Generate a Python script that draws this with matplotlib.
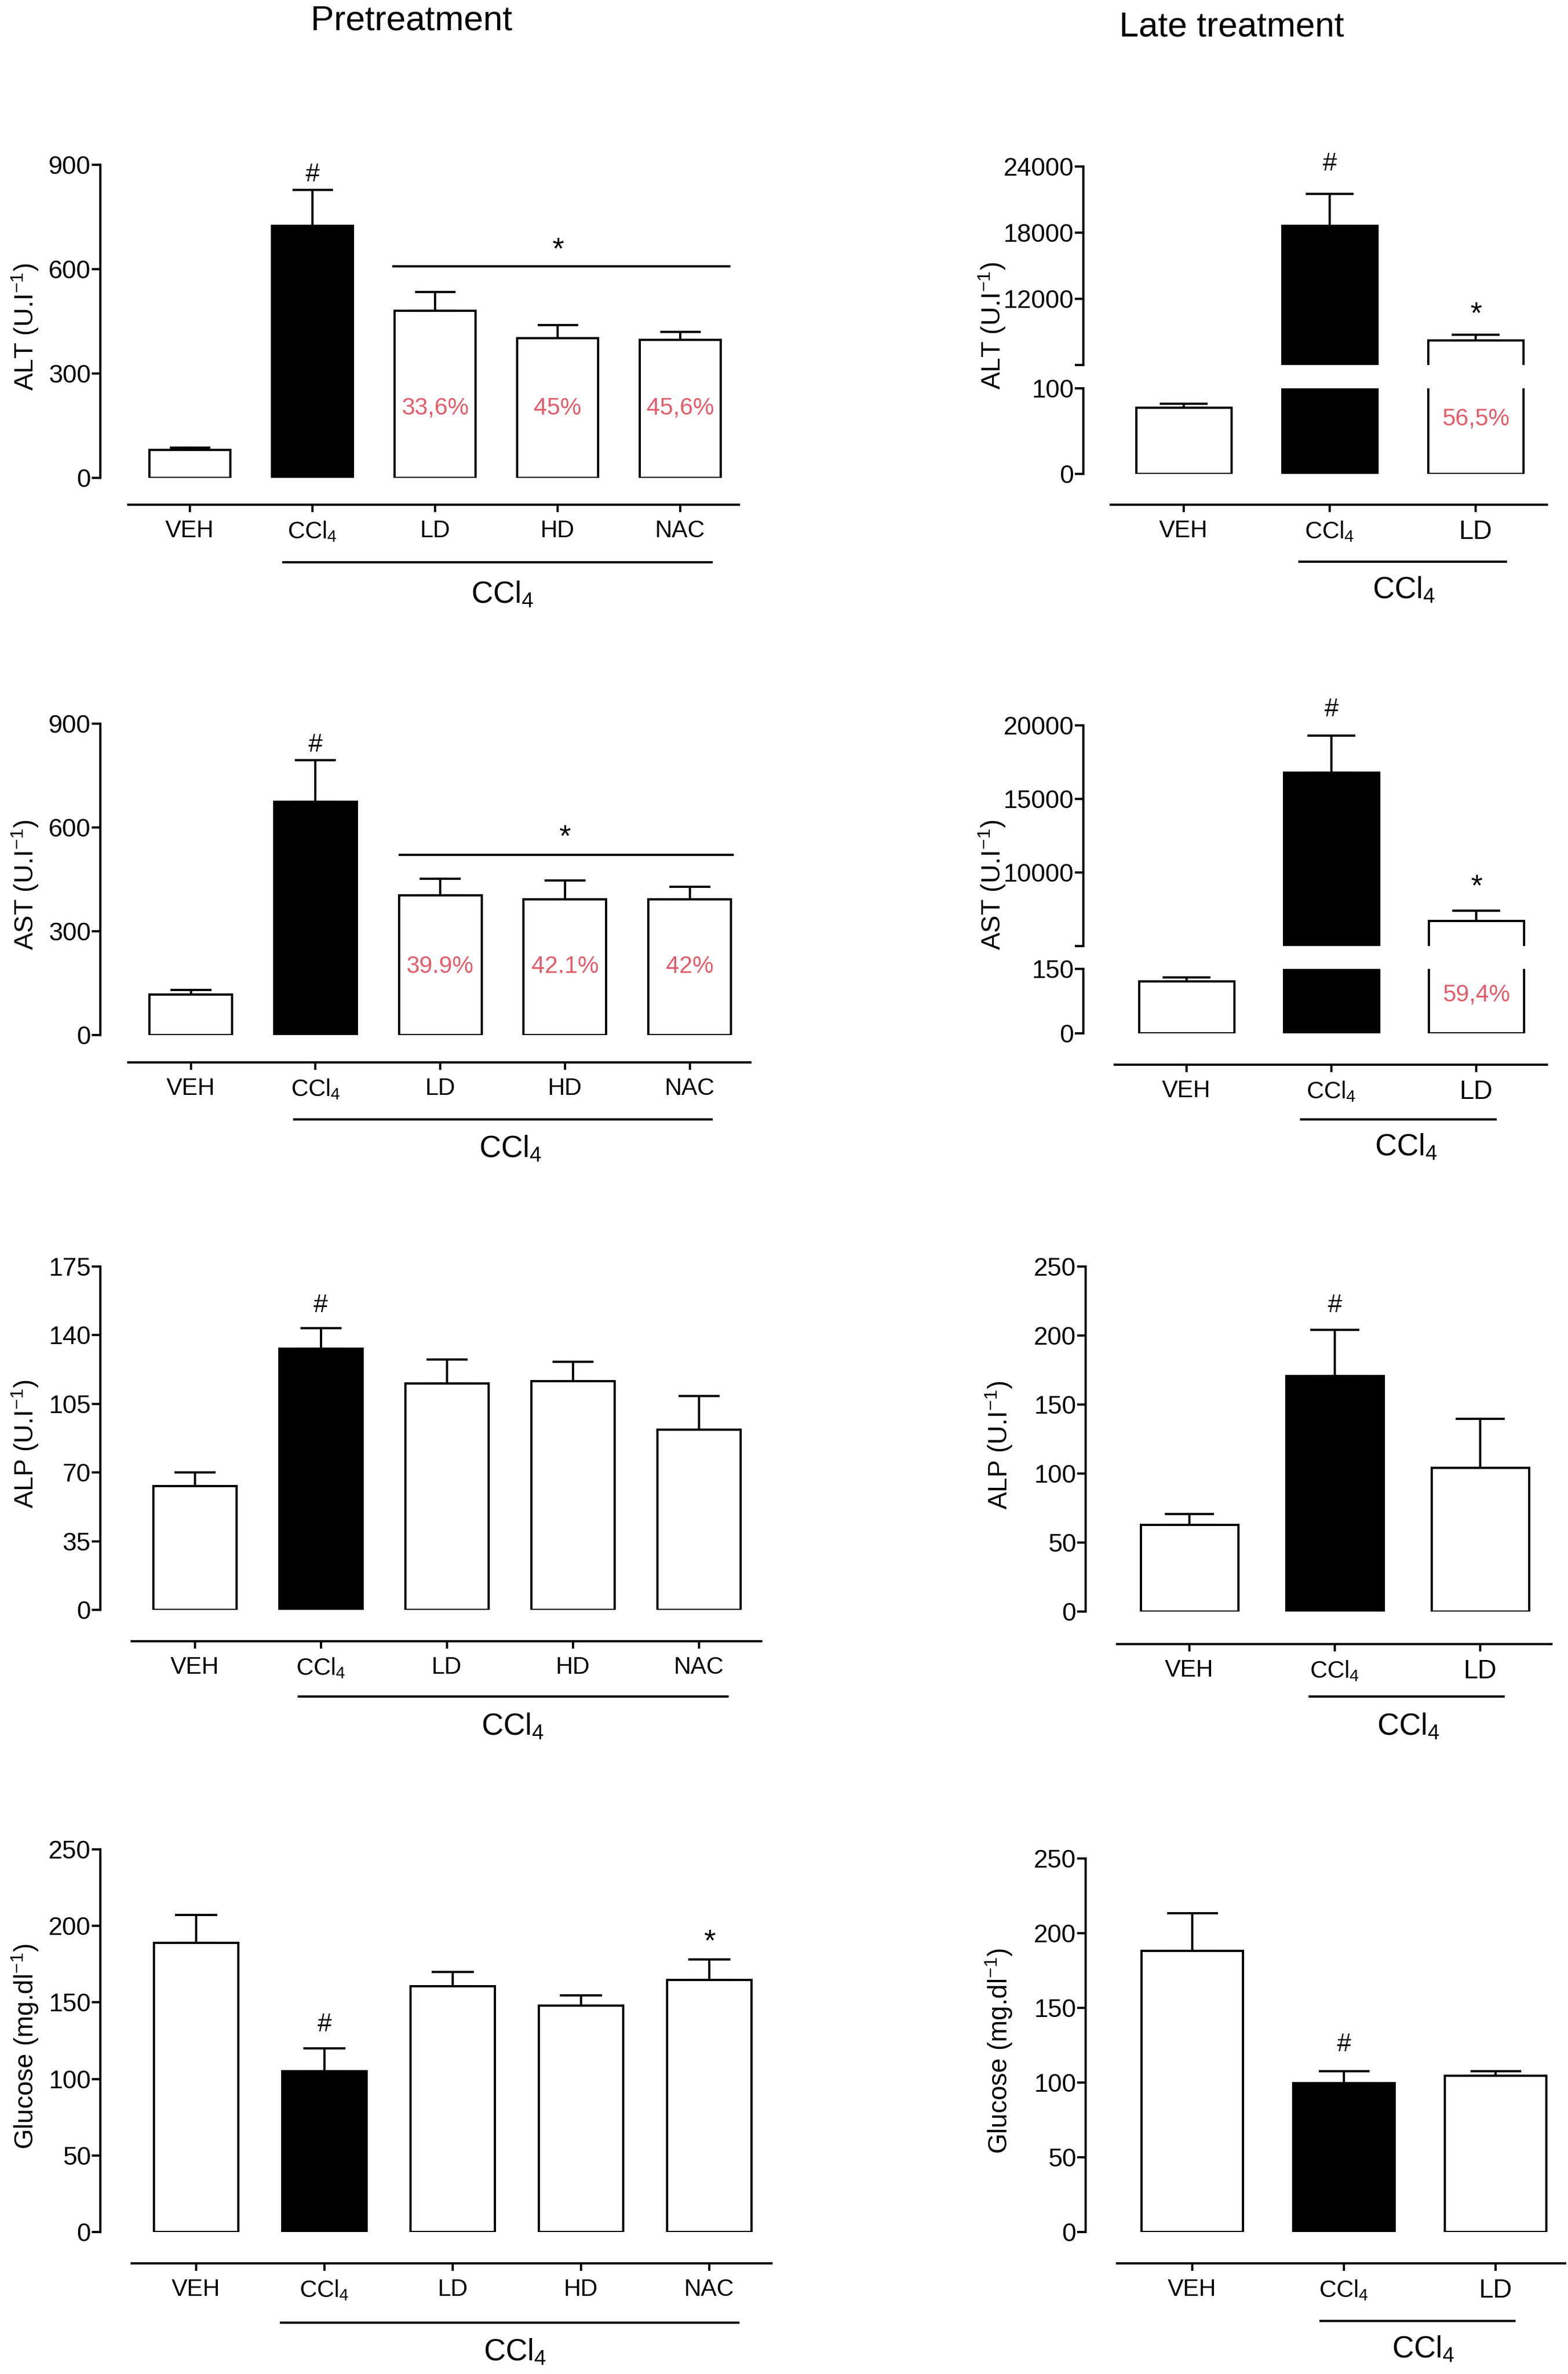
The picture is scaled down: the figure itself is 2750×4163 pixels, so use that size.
import matplotlib
matplotlib.use('Agg')
import matplotlib.pyplot as plt
import numpy as np
from matplotlib import font_manager as fm
from matplotlib.transforms import blended_transform_factory

# ---------------- data ----------------
pre_groups = ['VEH', 'CCl$_{\\mathregular{4}}$', 'LD', 'HD', 'NAC']
late_groups = ['VEH', 'CCl$_{\\mathregular{4}}$', 'LD']
pre_fill = ['white', 'black', 'white', 'white', 'white']
late_fill = ['white', 'black', 'white']

alt_pre_mean = [80, 725, 481, 402, 397]
alt_pre_sem = [6, 103, 54, 37, 23]
ast_pre_mean = [116, 674, 404, 392, 392]
ast_pre_sem = [13, 121, 48, 54, 36]
alp_pre_mean = [63, 133, 115.5, 116.5, 92]
alp_pre_sem = [7, 10.5, 12, 10, 17]
glu_pre_mean = [189, 105, 160.5, 148, 164.5]
glu_pre_sem = [18, 15, 9.5, 6.5, 13.5]

alt_late_mean = [77, 18600, 8250]
alt_late_sem = [5, 2900, 500]
ast_late_mean = [121, 16800, 6700]
ast_late_sem = [9, 2500, 700]
alp_late_mean = [63, 170.5, 104]
alp_late_sem = [7.5, 33.5, 35.5]
glu_late_mean = [188, 99.5, 104.5]
glu_late_sem = [25.5, 8, 3]

alt_pre_pct = ['', '', '33,6%', '45%', '45,6%']
ast_pre_pct = ['', '', '39.9%', '42.1%', '42%']
alt_late_pct = ['', '', '56,5%']
ast_late_pct = ['', '', '59,4%']

# ---------------- style ----------------
W, H, DPI = 2750, 4163, 100
names = {f.name for f in fm.fontManager.ttflist}
NARROW = (['Liberation Sans Narrow'] if 'Liberation Sans Narrow' in names else ['Liberation Sans']) + ['DejaVu Sans']
REG = ['Liberation Sans', 'DejaVu Sans']
PCT_COLOR = '#E35D6A'
LW = 2.8
TICKFS = 32
CATFS = 30
GROUPFS = 38
YLABFS = 33
PX2PT = 72 / DPI

fig = plt.figure(figsize=(W / DPI, H / DPI), dpi=DPI)
fig.patch.set_facecolor('white')


def add_ax(left, right, top, bottom):
    return fig.add_axes([left / W, 1 - bottom / H, (right - left) / W, (bottom - top) / H])


def style_left(ax, ticks, labels):
    for s in ('top', 'right'):
        ax.spines[s].set_visible(False)
    ax.spines['left'].set_linewidth(LW)
    ax.set_yticks(ticks)
    ax.set_yticklabels(labels, fontfamily=NARROW, fontsize=TICKFS)
    ax.tick_params(axis='y', direction='out', length=11, width=LW, pad=1)


def draw_bars(ax, L, means, sems, fills):
    n = len(means)
    x = np.arange(n)
    bw = L['bw'] / L['sp']
    ax.bar(x, means, width=bw, color=fills, edgecolor='black', linewidth=LW, zorder=2)
    cap = L['bw'] * 0.25 * PX2PT
    ax.errorbar(x, means, yerr=[np.zeros(n), sems], fmt='none', ecolor='black',
                elinewidth=LW, capsize=cap, capthick=LW, zorder=1)


def bottom_axis(ax, L, n, xlim, labels, late=False):
    sp, c0 = L['sp'], L['c0']
    ax.spines['bottom'].set_position(('outward', (L['line_y'] - L['y_zero']) * PX2PT))
    ax.spines['bottom'].set_bounds((L['line0'] - c0) / sp, xlim[1])
    ax.spines['bottom'].set_linewidth(LW)
    ax.set_xticks(np.arange(n))
    ax.set_xticklabels(labels, fontfamily=NARROW, fontsize=CATFS)
    if late:
        t = ax.get_xticklabels()[-1]
        t.set_fontfamily(REG)
        t.set_fontsize(33)
    ax.tick_params(axis='x', direction='out', length=9, width=LW, pad=10)
    # group line and label
    tr = blended_transform_factory(ax.transData, fig.transFigure)
    gy = 1 - L['gy'] / H
    ax.plot([(L['g0'] - c0) / sp, (L['g1'] - c0) / sp], [gy, gy], color='black',
            lw=LW, transform=tr, clip_on=False, solid_capstyle='butt')
    ax.text((L['glx'] - c0) / sp, 1 - L['gly'] / H, 'CCl$_{\\mathregular{4}}$', transform=tr,
            ha='center', va='center', fontsize=GROUPFS, fontfamily=NARROW)


def xlim_of(L, n):
    sp, c0 = L['sp'], L['c0']
    clast = c0 + (n - 1) * sp
    return (-(c0 - L['axis_x']) / sp, (n - 1) + (L['line1'] - clast) / sp)


def mark(ax, x, y, s, off_px, fs=None):
    if fs is None:
        fs = 38 if s == '*' else 32
    ax.annotate(s, xy=(x, y), xytext=(0, off_px * PX2PT), textcoords='offset points',
                ha='center', va='center', fontsize=fs, fontfamily=NARROW, annotation_clip=False)


def pct_labels(ax, labels, y):
    for i, s in enumerate(labels):
        if s:
            ax.text(i, y, s, ha='center', va='center', color=PCT_COLOR,
                    fontsize=30, fontfamily=REG, zorder=4)


def simple_panel(L, groups, means, sems, fills, ylim, yticks, ylabel, late=False):
    n = len(means)
    ax = add_ax(L['axis_x'], L['line1'], L['y_top'], L['y_zero'])
    xl = xlim_of(L, n)
    draw_bars(ax, L, means, sems, fills)
    ax.set_xlim(xl)
    ax.set_ylim(ylim)
    style_left(ax, yticks, [str(t) for t in yticks])
    bottom_axis(ax, L, n, xl, groups, late)
    fig.text(L['ylx'] / W, 1 - ((L['y_top'] + L['y_zero']) / 2 + 10) / H, ylabel,
             rotation=90, ha='center', va='center', fontsize=YLABFS, fontfamily=REG)
    return ax


def broken_panel(L, groups, means, sems, fills, ylim_hi, yticks_hi, ylim_lo, yticks_lo, ylabel):
    n = len(means)
    xl = xlim_of(L, n)
    axh = add_ax(L['axis_x'], L['line1'], L['hi_top'], L['hi_bot'])
    axl = add_ax(L['axis_x'], L['line1'], L['y_top'], L['y_zero'])
    for ax in (axh, axl):
        draw_bars(ax, L, means, sems, fills)
        ax.set_xlim(xl)
    axh.set_ylim(ylim_hi)
    axl.set_ylim(ylim_lo)
    style_left(axh, yticks_hi, [''] + [str(t) for t in yticks_hi[1:]])
    axh.spines['bottom'].set_visible(False)
    axh.set_xticks([])
    style_left(axl, yticks_lo, [str(t) for t in yticks_lo])
    bottom_axis(axl, L, n, xl, groups, late=True)
    fig.text(L['ylx'] / W, 1 - ((L['hi_top'] + L['y_zero']) / 2 + 10) / H, ylabel,
             rotation=90, ha='center', va='center', fontsize=YLABFS, fontfamily=REG)
    return axh, axl


def star_line(ax, x0, x1, y):
    ax.plot([x0, x1], [y, y], color='black', lw=LW, clip_on=False, solid_capstyle='butt')


# ---------------- layout (pixel positions) ----------------
L_alt_pre = dict(axis_x=176, y_top=289.4, y_zero=837.5, c0=333, sp=215, bw=142,
                 line0=225, line1=1296, line_y=885, gy=986, g0=495, g1=1250,
                 glx=881, gly=1042, ylx=44)
L_ast_pre = dict(axis_x=176, y_top=1269.4, y_zero=1814.6, c0=334.5, sp=218.75, bw=145,
                 line0=225, line1=1316, line_y=1862.5, gy=1963, g0=514, g1=1250,
                 glx=895, gly=2014, ylx=44)
L_alp_pre = dict(axis_x=176, y_top=2221, y_zero=2823, c0=341.5, sp=221, bw=146,
                 line0=231, line1=1335, line_y=2878, gy=2975, g0=522, g1=1278,
                 glx=899, gly=3027, ylx=44)
L_glu_pre = dict(axis_x=176, y_top=3243, y_zero=3914, c0=344, sp=225, bw=148,
                 line0=231, line1=1353, line_y=3969, gy=4073, g0=491, g1=1297,
                 glx=903, gly=4124, ylx=44)

L_alt_late = dict(axis_x=1900, hi_top=292, hi_bot=640, y_top=680.6, y_zero=830.6,
                  c0=2076, sp=256, bw=167, line0=1948, line1=2713, line_y=885,
                  gy=985, g0=2277, g1=2643, glx=2462, gly=1034, ylx=1740)
L_ast_late = dict(axis_x=1900, hi_top=1272, hi_bot=1659, y_top=1699, y_zero=1811.7,
                  c0=2081, sp=254, bw=167, line0=1955, line1=2713, line_y=1866.5,
                  gy=1963, g0=2280, g1=2625, glx=2466, gly=2011, ylx=1740)
L_alp_late = dict(axis_x=1904, y_top=2221, y_zero=2826, c0=2086, sp=255, bw=171,
                  line0=1959, line1=2721, line_y=2883, gy=2975, g0=2295, g1=2639,
                  glx=2470, gly=3027, ylx=1752)
L_glu_late = dict(axis_x=1904, y_top=3259, y_zero=3914, c0=2091, sp=266, bw=178,
                  line0=1959, line1=2745, line_y=3969, gy=4070, g0=2314, g1=2658,
                  glx=2496, gly=4119, ylx=1752)

# ---------------- panels ----------------
ax = simple_panel(L_alt_pre, pre_groups, alt_pre_mean, alt_pre_sem, pre_fill,
                  (0, 900), [0, 300, 600, 900], 'ALT (U.I$^{\\mathregular{-1}}$)')
mark(ax, 1, alt_pre_mean[1] + alt_pre_sem[1], '#', 27)
star_line(ax, 1.65, 4.41, 608)
mark(ax, 3.0, 608, '*', 28)
pct_labels(ax, alt_pre_pct, 200)

ax = simple_panel(L_ast_pre, pre_groups, ast_pre_mean, ast_pre_sem, pre_fill,
                  (0, 900), [0, 300, 600, 900], 'AST (U.I$^{\\mathregular{-1}}$)')
mark(ax, 1, ast_pre_mean[1] + ast_pre_sem[1], '#', 27)
star_line(ax, 1.666, 4.354, 521)
mark(ax, 3.0, 521, '*', 30)
pct_labels(ax, ast_pre_pct, 197)

ax = simple_panel(L_alp_pre, pre_groups, alp_pre_mean, alp_pre_sem, pre_fill,
                  (0, 175), [0, 35, 70, 105, 140, 175], 'ALP (U.I$^{\\mathregular{-1}}$)')
mark(ax, 1, alp_pre_mean[1] + alp_pre_sem[1], '#', 40)

ax = simple_panel(L_glu_pre, pre_groups, glu_pre_mean, glu_pre_sem, pre_fill,
                  (0, 250), [0, 50, 100, 150, 200, 250], 'Glucose (mg.dl$^{\\mathregular{-1}}$)')
mark(ax, 1, glu_pre_mean[1] + glu_pre_sem[1], '#', 41)
mark(ax, 4, glu_pre_mean[4] + glu_pre_sem[4], '*', 30)

axh, axl = broken_panel(L_alt_late, late_groups, alt_late_mean, alt_late_sem, late_fill,
                        (6000, 24000), [6000, 12000, 18000, 24000], (0, 100), [0, 100],
                        'ALT (U.I$^{\\mathregular{-1}}$)')
mark(axh, 1, alt_late_mean[1] + alt_late_sem[1], '#', 53)
mark(axh, 2, alt_late_mean[2] + alt_late_sem[2], '*', 35)
pct_labels(axl, alt_late_pct, 64)

axh, axl = broken_panel(L_ast_late, late_groups, ast_late_mean, ast_late_sem, late_fill,
                        (5000, 20000), [5000, 10000, 15000, 20000], (0, 150), [0, 150],
                        'AST (U.I$^{\\mathregular{-1}}$)')
mark(axh, 1, ast_late_mean[1] + ast_late_sem[1], '#', 46)
mark(axh, 2, ast_late_mean[2] + ast_late_sem[2], '*', 41)
pct_labels(axl, ast_late_pct, 89)

ax = simple_panel(L_alp_late, late_groups, alp_late_mean, alp_late_sem, late_fill,
                  (0, 250), [0, 50, 100, 150, 200, 250], 'ALP (U.I$^{\\mathregular{-1}}$)', late=True)
mark(ax, 1, alp_late_mean[1] + alp_late_sem[1], '#', 43)

ax = simple_panel(L_glu_late, late_groups, glu_late_mean, glu_late_sem, late_fill,
                  (0, 250), [0, 50, 100, 150, 200, 250], 'Glucose (mg.dl$^{\\mathregular{-1}}$)', late=True)
mark(ax, 1, glu_late_mean[1] + glu_late_sem[1], '#', 47)

# ---------------- titles ----------------
fig.text(722 / W, 1 - 37 / H, 'Pretreatment', ha='center', va='center', fontsize=44, fontfamily=NARROW)
fig.text(2160 / W, 1 - 48 / H, 'Late treatment', ha='center', va='center', fontsize=44, fontfamily=NARROW)

fig.savefig('out.png', dpi=DPI, facecolor='white')
